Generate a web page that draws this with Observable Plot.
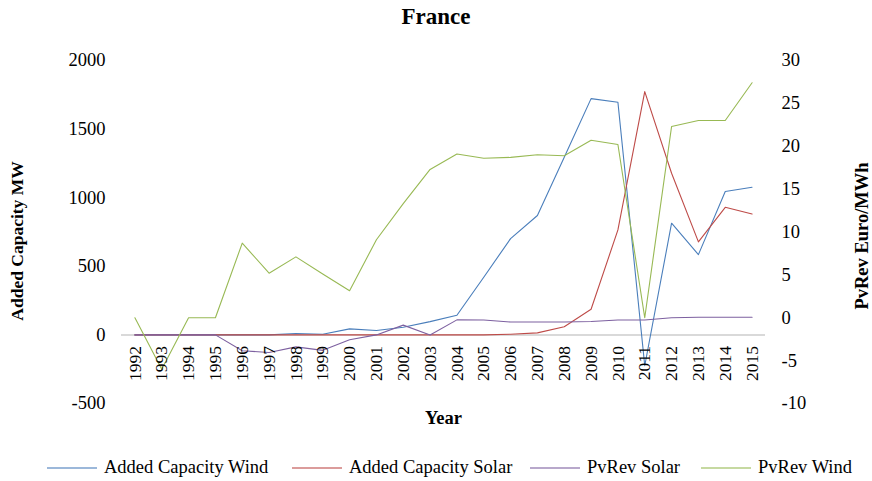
<!DOCTYPE html>
<html>
<head>
<meta charset="utf-8">
<script src="https://cdn.jsdelivr.net/npm/d3@7"></script>
<script src="https://cdn.jsdelivr.net/npm/@observablehq/plot@0.6"></script>
<style>
  body { margin: 0; background: #fff; font-family: "Liberation Serif", "Times New Roman", serif; }
  #wrap { position: relative; width: 872px; height: 481px; overflow: hidden; }
  #title { position: absolute; top: 4px; left: 0; width: 872px; text-align: center; font-weight: bold; font-size: 23px; }
  #chart { position: absolute; top: 0; left: 0; }
  #chart svg, #chart svg text { font-family: "Liberation Serif", "Times New Roman", serif !important; }
  .lg { position: absolute; top: 457px; display: flex; align-items: center; font-size: 18.5px; color: #000; white-space: nowrap; }
  .lg span.sw { display: inline-block; width: 50px; height: 0; border-top: 2px solid; margin-right: 7px; opacity: 0.55; }
</style>
</head>
<body>
<div id="wrap">
  <div id="chart"></div>
  <div id="title">France</div>
  <div id="legend"></div>
</div>
<script>
// ---- data ----
const years = [1992,1993,1994,1995,1996,1997,1998,1999,2000,2001,2002,2003,2004,2005,2006,2007,2008,2009,2010,2011,2012,2013,2014,2015];
const windCap = [0,0,0,0,0,0,10,5,44,32,56,97,143,420,702,870,1295,1722,1696,-225,814,585,1045,1076];
const solarCap = [0,0,0,0,0,0,0,0,0,0,0,0,0,0,5,15,60,187,765,1773,1178,678,930,881];
const pvSolar = [-2,-2,-2,-2,-3.85,-4.05,-3.4,-3.8,-2.57,-2,-0.86,-2,-0.25,-0.27,-0.5,-0.5,-0.5,-0.43,-0.27,-0.27,0,0.05,0.05,0.05];
const pvWind = [0,-6,0,0,8.7,5.2,7.1,5.1,3.15,9.1,13.3,17.3,19.1,18.6,18.7,19.0,18.9,20.7,20.2,0,22.3,23.0,23.0,27.4];
const leftTicks = [-500,0,500,1000,1500,2000];
const rightTicks = [-10,-5,0,5,10,15,20,25,30];
const seriesNames = ["Added Capacity Wind","Added Capacity Solar","PvRev Solar","PvRev Wind"];
const colors = ["#4A7EBB","#BE4B48","#7D60A0","#98B954"];

// right axis domain [-10,30] mapped onto left domain [-500,2000]
const L0 = -500, L1 = 2000, R0 = -10, R1 = 30;
const toLeft = v => L0 + (v - R0) / (R1 - R0) * (L1 - L0);
const fromLeft = v => R0 + (v - L0) / (L1 - L0) * (R1 - R0);

const font = "'Liberation Serif', 'Times New Roman', serif";
const series = [
  {vals: windCap, conv: v => v},
  {vals: solarCap, conv: v => v},
  {vals: pvSolar, conv: toLeft},
  {vals: pvWind, conv: toLeft}
];

const lines = series.map((s, k) => Plot.line(years, {
  x: d => d,
  y: (d, i) => s.conv(s.vals[i]),
  stroke: colors[k],
  strokeWidth: 1.1
}));

const chart = Plot.plot({
  width: 872,
  height: 445,
  marginLeft: 121,
  marginRight: 107,
  marginTop: 60,
  marginBottom: 42,
  style: {fontFamily: font, fontSize: "18px", color: "#000", background: "transparent"},
  x: {type: "point", domain: years, padding: 0.5, round: false, axis: null},
  y: {domain: [L0, L1], axis: null},
  marks: [
    Plot.axisY({anchor: "left", ticks: leftTicks, tickFormat: d => String(d), tickSize: 0, tickPadding: 16, label: null, fontSize: 18.5, fontFamily: font}),
    Plot.axisY({anchor: "right", ticks: rightTicks.map(toLeft), tickFormat: d => String(Math.round(fromLeft(d))), tickSize: 0, tickPadding: 16, label: null, fontSize: 18.5, fontFamily: font}),
    Plot.ruleY([0], {stroke: "#d9d9d9", strokeWidth: 2}),
    ...lines,
    Plot.text(years, {x: d => d, y: years.map(() => 0), text: d => String(d), rotate: -90, textAnchor: "end", lineAnchor: "middle", dy: 11, fontSize: 17.5, fontFamily: font, fill: "#000"}),
    Plot.text(["Added Capacity MW"], {frameAnchor: "left", textAnchor: "middle", lineAnchor: "middle", dx: -104, dy: 9, rotate: -90, fontWeight: "bold", fontSize: 17.5, fontFamily: font, fill: "#000"}),
    Plot.text(["PvRev Euro/MWh"], {frameAnchor: "right", textAnchor: "middle", lineAnchor: "middle", dx: 97, dy: 4, rotate: -90, fontWeight: "bold", fontSize: 18.5, fontFamily: font, fill: "#000"}),
    Plot.text(["Year"], {frameAnchor: "bottom", textAnchor: "middle", lineAnchor: "middle", dy: 15, fontWeight: "bold", fontSize: 18.5, fontFamily: font, fill: "#000"})
  ]
});
document.getElementById("chart").appendChild(chart);

// legend
const lgX = [47, 292, 530, 701];
const legend = document.getElementById("legend");
seriesNames.forEach((name, k) => {
  const item = document.createElement("div");
  item.className = "lg";
  item.style.left = lgX[k] + "px";
  const sw = document.createElement("span");
  sw.className = "sw";
  sw.style.borderTopColor = colors[k];
  item.appendChild(sw);
  item.appendChild(document.createTextNode(name));
  legend.appendChild(item);
});
</script>
</body>
</html>
